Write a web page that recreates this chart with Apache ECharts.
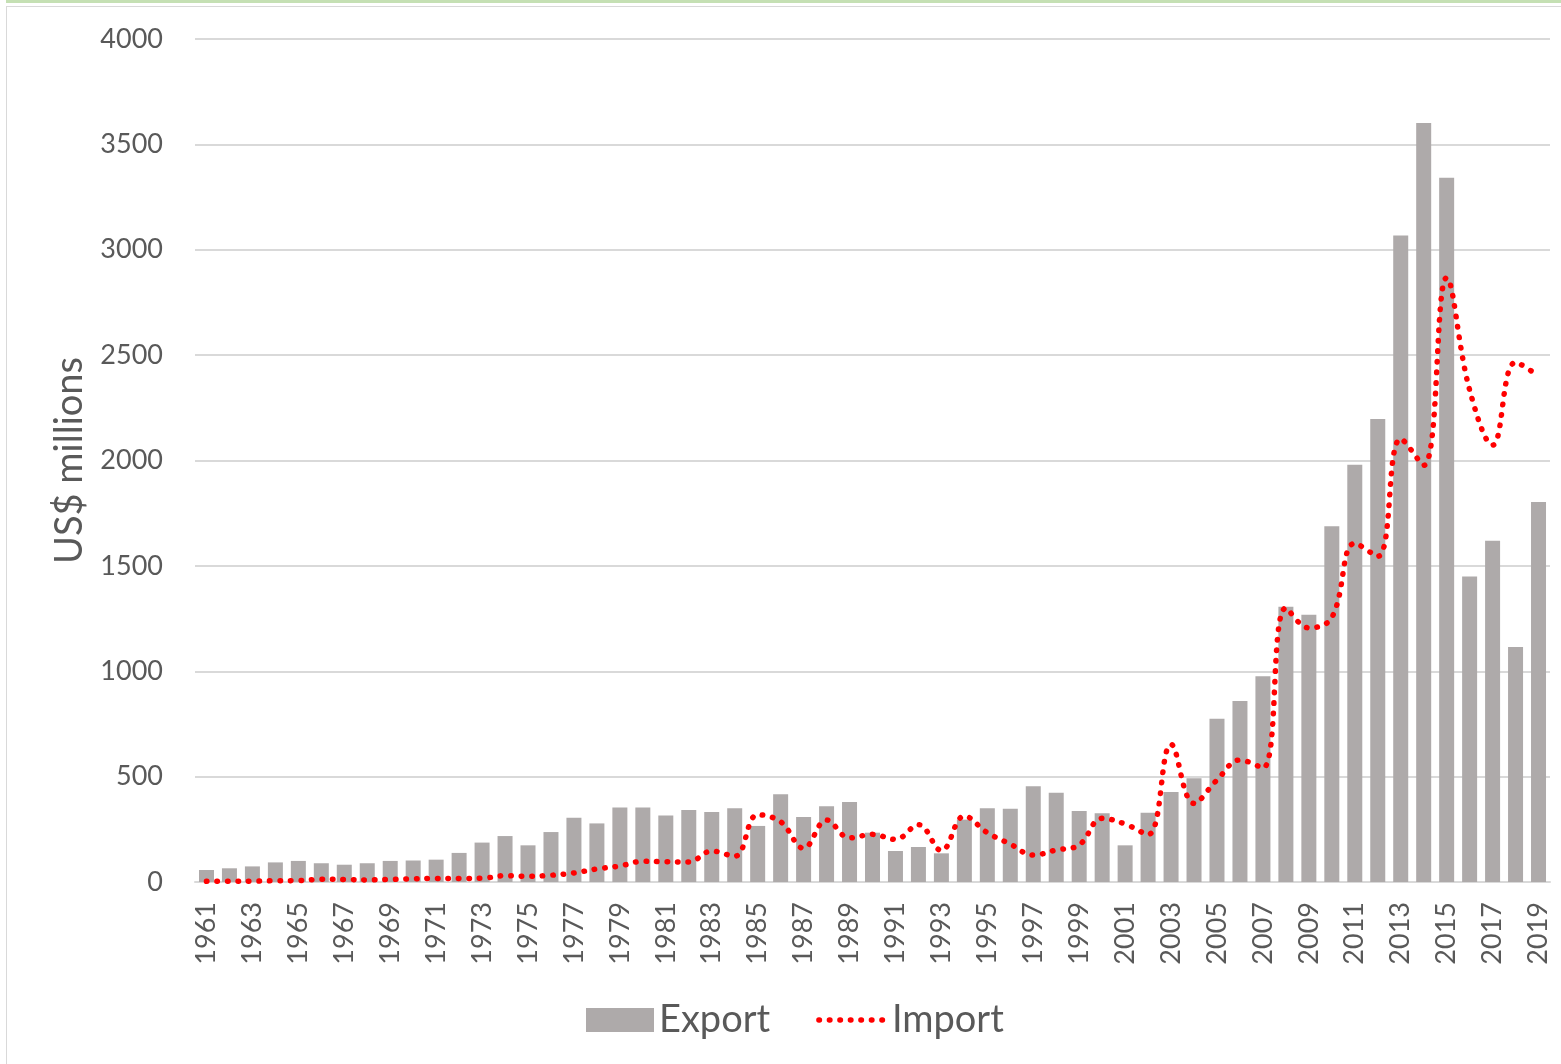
<!DOCTYPE html>
<html>
<head>
<meta charset="utf-8">
<title>Export / Import</title>
<script src="https://cdn.jsdelivr.net/npm/echarts@6/dist/echarts.min.js"></script>
<style>
  html, body {
    margin: 0;
    padding: 0;
    background: #fff;
  }
  #topbar {
    position: absolute;
    left: 6px;
    top: 0;
    width: 1555px;
    height: 3px;
    background: #c5e0b4;
  }
  #frame {
    position: absolute;
    left: 6px;
    top: 6px;
    width: 1560px;
    height: 1070px;
    border: 1px solid #d9d9d9;
  }
  #chart {
    position: absolute;
    left: 0;
    top: 0;
    width: 1561px;
    height: 1064px;
  }
</style>
</head>
<body>
<div id="topbar"></div>
<div id="frame"></div>
<div id="chart"></div>
<script>
// years on the x axis
const years = [];
for (let y = 1961; y <= 2019; y++) years.push(String(y));

// US$ millions
const exportValues = [
  57, 65, 74, 93, 100, 89, 82, 89, 100, 102,
  106, 138, 187, 218, 174, 237, 305, 278, 353, 353,
  315, 342, 332, 350, 266, 416, 308, 359, 380, 234,
  147, 166, 136, 296, 350, 348, 454, 424, 337, 326,
  174, 329, 427, 492, 775, 859, 976, 1306, 1268, 1688,
  1980, 2197, 3068, 3601, 3342, 1450, 1619, 1115, 1803
];

const importValues = [
  3, 4, 4, 6, 7, 13, 12, 10, 12, 15,
  17, 17, 18, 30, 27, 32, 43, 62, 76, 98,
  96, 95, 147, 122, 319, 286, 160, 294, 209, 226,
  202, 272, 149, 313, 234, 180, 128, 152, 176, 302,
  275, 225, 653, 373, 484, 579, 541, 1300, 1206, 1255,
  1607, 1545, 2103, 1977, 2867, 2335, 2073, 2466, 2400
];

const textColor = '#595959';
const font = 'Lato, "Open Sans", sans-serif';

// red dotted line used by the series and its legend entry
const dotted = {
  color: '#ff0000',
  width: 5.5,
  type: [0.5, 10],
  cap: 'round'
};

const chart = echarts.init(document.getElementById('chart'));

const option = {
  animation: false,
  textStyle: { fontFamily: font },
  grid: {
    left: 195,
    right: 11,
    top: 39,
    bottom: 182
  },
  legend: {
    left: 581,
    top: 996,
    itemWidth: 68,
    itemHeight: 24,
    itemGap: 46,
    textStyle: {
      color: textColor,
      fontSize: 38,
      fontFamily: font
    },
    data: [
      { name: 'Export', icon: 'rect' },
      // hide the symbol, keep only the dotted line
      {
        name: 'Import',
        itemStyle: { color: 'rgba(0,0,0,0)', borderWidth: 0 },
        lineStyle: dotted
      }
    ]
  },
  xAxis: {
    type: 'category',
    data: years,
    axisLine: {
      lineStyle: { color: '#d9d9d9', width: 2 }
    },
    axisTick: { show: false },
    axisLabel: {
      rotate: 90,
      interval: 1,
      margin: 20,
      color: textColor,
      fontSize: 27,
      fontFamily: font
    }
  },
  yAxis: {
    type: 'value',
    min: 0,
    max: 4000,
    interval: 500,
    name: 'US$ millions',
    nameLocation: 'middle',
    nameRotate: 90,
    nameGap: 106,
    nameTextStyle: {
      color: textColor,
      fontSize: 38,
      fontFamily: font
    },
    axisLine: { show: false },
    axisTick: { show: false },
    axisLabel: {
      margin: 32,
      color: textColor,
      fontSize: 27,
      fontFamily: font,
      formatter: (v) => String(v)
    },
    splitLine: {
      lineStyle: { color: '#d9d9d9', width: 2 }
    }
  },
  series: [
    {
      name: 'Export',
      type: 'bar',
      data: exportValues,
      barWidth: 15,
      itemStyle: { color: '#aeaaaa' }
    },
    {
      name: 'Import',
      type: 'line',
      data: importValues,
      smooth: 0.4,
      symbol: 'none',
      lineStyle: dotted,
      itemStyle: { color: '#ff0000' }
    }
  ]
};

chart.setOption(option);
</script>
</body>
</html>
